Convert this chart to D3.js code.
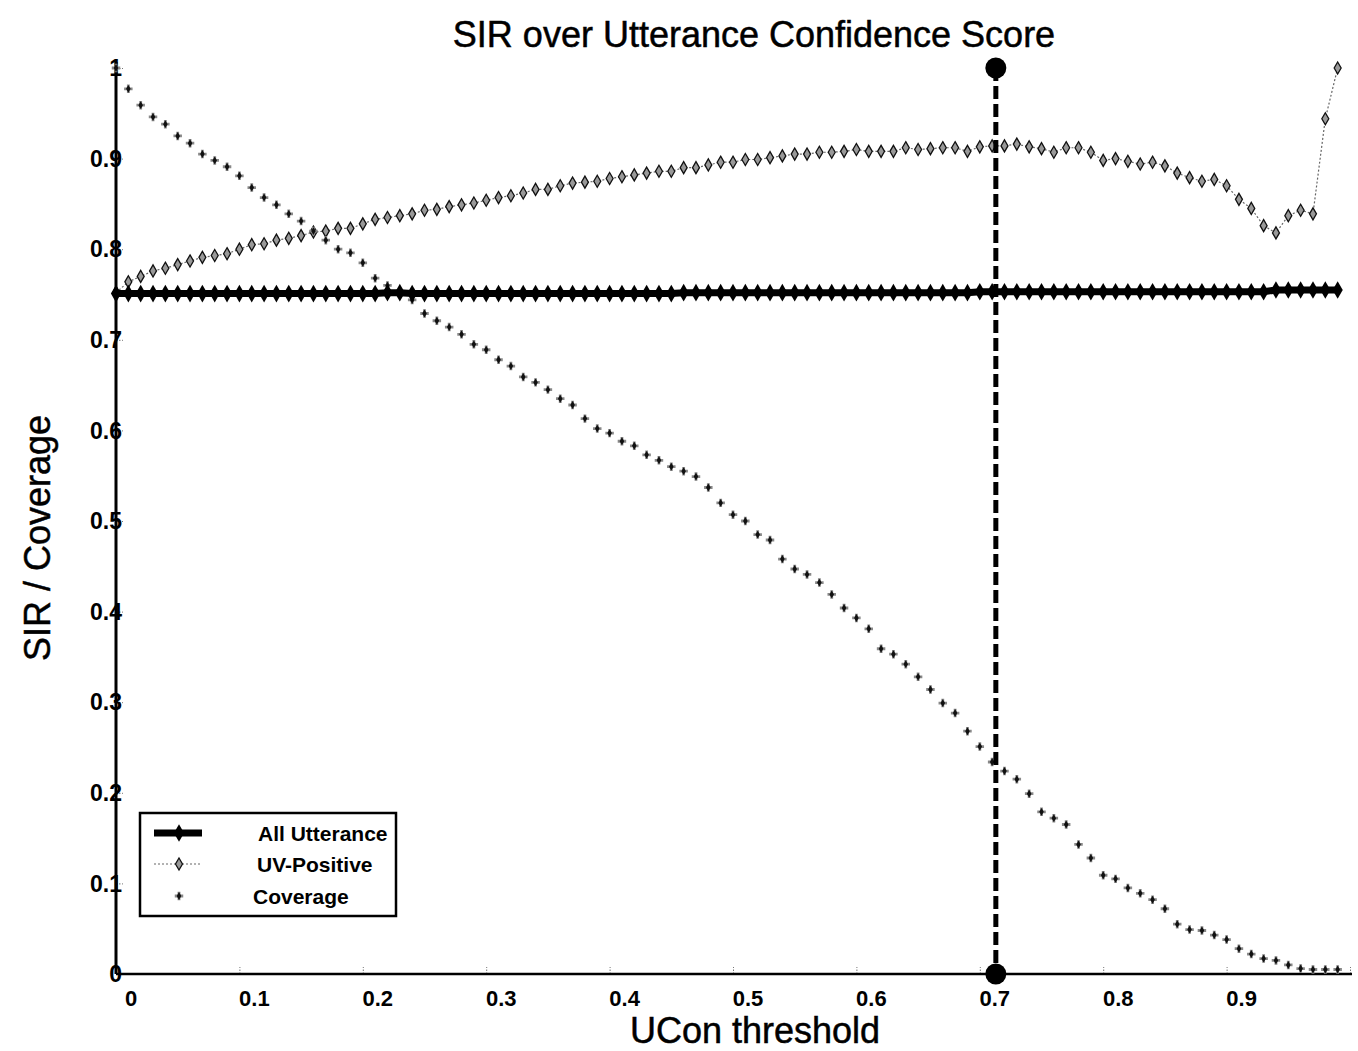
<!DOCTYPE html>
<html>
<head>
<meta charset="utf-8">
<script src="https://cdn.jsdelivr.net/npm/d3@7"></script>
<style>
  html, body { margin: 0; padding: 0; background: #fff; }
  svg { display: block; }
  text { font-family: "Liberation Sans", Arial, sans-serif; fill: #000; }
</style>
</head>
<body>
<svg id="chart" width="1358" height="1051"></svg>
<script>
// ---------------- data ----------------
const thresholds = [
  0.00,0.01,0.02,0.03,0.04,0.05,0.06,0.07,0.08,0.09,
  0.10,0.11,0.12,0.13,0.14,0.15,0.16,0.17,0.18,0.19,
  0.20,0.21,0.22,0.23,0.24,0.25,0.26,0.27,0.28,0.29,
  0.30,0.31,0.32,0.33,0.34,0.35,0.36,0.37,0.38,0.39,
  0.40,0.41,0.42,0.43,0.44,0.45,0.46,0.47,0.48,0.49,
  0.50,0.51,0.52,0.53,0.54,0.55,0.56,0.57,0.58,0.59,
  0.60,0.61,0.62,0.63,0.64,0.65,0.66,0.67,0.68,0.69,
  0.70,0.71,0.72,0.73,0.74,0.75,0.76,0.77,0.78,0.79,
  0.80,0.81,0.82,0.83,0.84,0.85,0.86,0.87,0.88,0.89,
  0.90,0.91,0.92,0.93,0.94,0.95,0.96,0.97,0.98,0.99
];

const allUtterance = [
  0.751,0.751,0.751,0.751,0.751,0.751,0.751,0.751,0.751,0.751,
  0.751,0.751,0.751,0.751,0.751,0.751,0.751,0.751,0.751,0.751,
  0.751,0.751,0.752,0.752,0.751,0.751,0.751,0.751,0.751,0.751,
  0.751,0.751,0.751,0.751,0.751,0.751,0.751,0.751,0.751,0.751,
  0.751,0.751,0.751,0.751,0.751,0.751,0.752,0.752,0.752,0.752,
  0.752,0.752,0.752,0.752,0.752,0.752,0.752,0.752,0.752,0.752,
  0.752,0.752,0.752,0.752,0.752,0.752,0.752,0.752,0.752,0.752,
  0.753,0.753,0.753,0.753,0.753,0.753,0.753,0.753,0.753,0.753,
  0.753,0.753,0.753,0.753,0.753,0.753,0.753,0.753,0.753,0.753,
  0.753,0.753,0.753,0.753,0.755,0.755,0.755,0.755,0.755,0.755
];

const uvPositive = [
  0.752,0.764,0.770,0.776,0.779,0.783,0.787,0.791,0.793,0.795,
  0.800,0.805,0.806,0.810,0.812,0.815,0.819,0.820,0.823,0.823,
  0.828,0.833,0.835,0.837,0.839,0.843,0.844,0.847,0.849,0.851,
  0.854,0.857,0.859,0.862,0.866,0.866,0.870,0.873,0.874,0.875,
  0.878,0.880,0.882,0.884,0.886,0.886,0.890,0.890,0.893,0.896,
  0.896,0.899,0.899,0.901,0.903,0.905,0.905,0.907,0.907,0.908,
  0.910,0.908,0.908,0.908,0.912,0.910,0.911,0.912,0.912,0.908,
  0.913,0.914,0.914,0.916,0.913,0.911,0.907,0.912,0.912,0.907,
  0.898,0.900,0.897,0.894,0.896,0.892,0.884,0.879,0.875,0.877,
  0.870,0.855,0.845,0.826,0.818,0.837,0.843,0.839,0.944,1.000
];

const coverage = [
  1.000,0.977,0.959,0.946,0.938,0.925,0.917,0.905,0.898,0.891,
  0.881,0.868,0.857,0.849,0.839,0.831,0.820,0.810,0.800,0.796,
  0.785,0.768,0.760,0.752,0.744,0.729,0.721,0.714,0.706,0.695,
  0.689,0.678,0.671,0.659,0.653,0.645,0.635,0.628,0.613,0.602,
  0.597,0.588,0.583,0.573,0.567,0.560,0.555,0.549,0.537,0.520,
  0.507,0.500,0.485,0.479,0.458,0.447,0.441,0.432,0.419,0.404,
  0.393,0.381,0.359,0.353,0.342,0.328,0.314,0.299,0.288,0.268,
  0.251,0.234,0.224,0.215,0.199,0.179,0.172,0.165,0.143,0.128,
  0.109,0.105,0.095,0.089,0.082,0.072,0.055,0.049,0.048,0.043,
  0.038,0.028,0.022,0.017,0.015,0.010,0.006,0.005,0.005,0.005
];

const xTicks = [0, 0.1, 0.2, 0.3, 0.4, 0.5, 0.6, 0.7, 0.8, 0.9];
const yTicks = [0, 0.1, 0.2, 0.3, 0.4, 0.5, 0.6, 0.7, 0.8, 0.9, 1];
const chosenThreshold = 0.713;   // selected UCon threshold (vertical marker)
const markerRange = [0, 1];
const seriesNames = ["All Utterance", "UV-Positive", "Coverage"];
const titleText = "SIR over Utterance Confidence Score";
const xLabelText = "UCon threshold";
const yLabelText = "SIR / Coverage";

// ---------------- layout ----------------
const svg = d3.select("#chart");
const x = d3.scaleLinear().domain([0, 1]).range([116, 1350]);
const y = d3.scaleLinear().domain([0, 1]).range([974, 68]);

const rows = thresholds.map((t, i) => ({
  t, all: allUtterance[i], uv: uvPositive[i], cov: coverage[i]
}));

// ticks (small grey, inside)
const yAxis = d3.axisRight(y).tickValues(yTicks).tickSize(7).tickFormat("");
const yg = svg.append("g").attr("transform", `translate(${x(0)},0)`).call(yAxis);
yg.select(".domain").remove();
yg.selectAll(".tick line").attr("stroke", "#777").attr("stroke-width", 1).attr("stroke-dasharray", "1.5,1.5");

const xAxis = d3.axisTop(x).tickValues([0.1,0.2,0.3,0.4,0.5,0.6,0.7,0.8,0.9,1]).tickSize(7).tickFormat("");
const xg = svg.append("g").attr("transform", `translate(0,${y(0)})`).call(xAxis);
xg.select(".domain").remove();
xg.selectAll(".tick line").attr("stroke", "#777").attr("stroke-width", 1).attr("stroke-dasharray", "1.5,1.5");

// axis lines
svg.append("line").attr("x1", x(0)).attr("x2", x(0)).attr("y1", y(1) - 6).attr("y2", y(0))
  .attr("stroke", "#000").attr("stroke-width", 3);
svg.append("line").attr("x1", x(0)).attr("x2", x(1) + 2).attr("y1", y(0)).attr("y2", y(0))
  .attr("stroke", "#000").attr("stroke-width", 2.5);

// tick labels
svg.append("g").selectAll("text").data(yTicks).join("text")
  .attr("x", x(0) + 6).attr("y", d => y(d)).attr("dy", "0.36em")
  .attr("text-anchor", "end").attr("font-size", 23).attr("font-weight", "bold")
  .text(d => d === 0 ? "0" : d === 1 ? "1" : d3.format(".1f")(d));

svg.append("g").selectAll("text").data(xTicks).join("text")
  .attr("x", d => x(d) + 15).attr("y", y(0) + 32)
  .attr("text-anchor", "middle").attr("font-size", 22).attr("font-weight", "bold")
  .text(d => d === 0 ? "0" : d3.format(".1f")(d));

// titles
svg.append("text").attr("x", 754).attr("y", 47).attr("text-anchor", "middle")
  .attr("font-size", 36).attr("stroke", "#000").attr("stroke-width", 0.5).text(titleText);
svg.append("text").attr("x", 755).attr("y", 1043).attr("text-anchor", "middle")
  .attr("font-size", 36).attr("stroke", "#000").attr("stroke-width", 0.5).text(xLabelText);
svg.append("text").attr("transform", `translate(50,538) rotate(-90)`).attr("text-anchor", "middle")
  .attr("font-size", 36).attr("stroke", "#000").attr("stroke-width", 0.5).text(yLabelText);

// ---------------- series ----------------
const diamond = d3.symbol().type(d3.symbolDiamond);
const cross = d3.symbol().type(d3.symbolCross);

// UV-Positive: dotted grey line with grey diamonds
svg.append("path").datum(rows)
  .attr("d", d3.line().x(d => x(d.t)).y(d => y(d.uv)))
  .attr("fill", "none").attr("stroke", "#666").attr("stroke-width", 1.2).attr("stroke-dasharray", "2,2");
svg.append("g").selectAll("path").data(rows).join("path")
  .attr("transform", d => `translate(${x(d.t)},${y(d.uv)})`)
  .attr("d", diamond.size(42)())
  .attr("fill", "#999").attr("stroke", "#111").attr("stroke-width", 1.3);

// Coverage: small star-like marks
const covG = svg.append("g");
covG.selectAll("path.c1").data(rows).join("path").attr("class", "c1")
  .attr("transform", d => `translate(${x(d.t)},${y(d.cov)})`)
  .attr("d", cross.size(40)())
  .attr("fill", "#888");
covG.selectAll("path.c2").data(rows).join("path").attr("class", "c2")
  .attr("transform", d => `translate(${x(d.t)},${y(d.cov)})`)
  .attr("d", diamond.size(18)())
  .attr("fill", "#111");

// All Utterance: thick black line with black diamonds
svg.append("path").datum(rows)
  .attr("d", d3.line().x(d => x(d.t)).y(d => y(d.all)))
  .attr("fill", "none").attr("stroke", "#000").attr("stroke-width", 7);
svg.append("g").selectAll("path").data(rows).join("path")
  .attr("transform", d => `translate(${x(d.t)},${y(d.all)})`)
  .attr("d", diamond.size(90)())
  .attr("fill", "#000");

// threshold marker: dashed vertical with dots at ends
svg.append("line")
  .attr("x1", x(chosenThreshold)).attr("x2", x(chosenThreshold))
  .attr("y1", y(markerRange[1])).attr("y2", y(markerRange[0]))
  .attr("stroke", "#000").attr("stroke-width", 5).attr("stroke-dasharray", "13,5");
svg.append("g").selectAll("circle").data(markerRange).join("circle")
  .attr("cx", x(chosenThreshold)).attr("cy", d => y(d)).attr("r", 10.5).attr("fill", "#000");

// ---------------- legend ----------------
const lg = svg.append("g");
lg.append("rect").attr("x", 140).attr("y", 813).attr("width", 256).attr("height", 103)
  .attr("fill", "#fff").attr("stroke", "#000").attr("stroke-width", 2.5);
const legY = [833, 864, 896];
// All Utterance
lg.append("line").attr("x1", 154).attr("x2", 202).attr("y1", legY[0]).attr("y2", legY[0])
  .attr("stroke", "#000").attr("stroke-width", 7);
lg.append("path").attr("transform", `translate(179,${legY[0]})`).attr("d", diamond.size(90)()).attr("fill", "#000");
// UV-Positive
lg.append("line").attr("x1", 154).attr("x2", 202).attr("y1", legY[1]).attr("y2", legY[1])
  .attr("stroke", "#666").attr("stroke-width", 1.2).attr("stroke-dasharray", "2,2");
lg.append("path").attr("transform", `translate(179,${legY[1]})`).attr("d", diamond.size(42)())
  .attr("fill", "#999").attr("stroke", "#111").attr("stroke-width", 1.3);
// Coverage
lg.append("path").attr("transform", `translate(179,${legY[2]})`).attr("d", cross.size(40)()).attr("fill", "#888");
lg.append("path").attr("transform", `translate(179,${legY[2]})`).attr("d", diamond.size(18)()).attr("fill", "#111");

lg.selectAll("text").data(seriesNames).join("text")
  .attr("x", (d, i) => [258, 257, 253][i]).attr("y", (d, i) => legY[i]).attr("dy", "0.36em")
  .attr("font-size", 21).attr("font-weight", "bold").text(d => d);
</script>
</body>
</html>
